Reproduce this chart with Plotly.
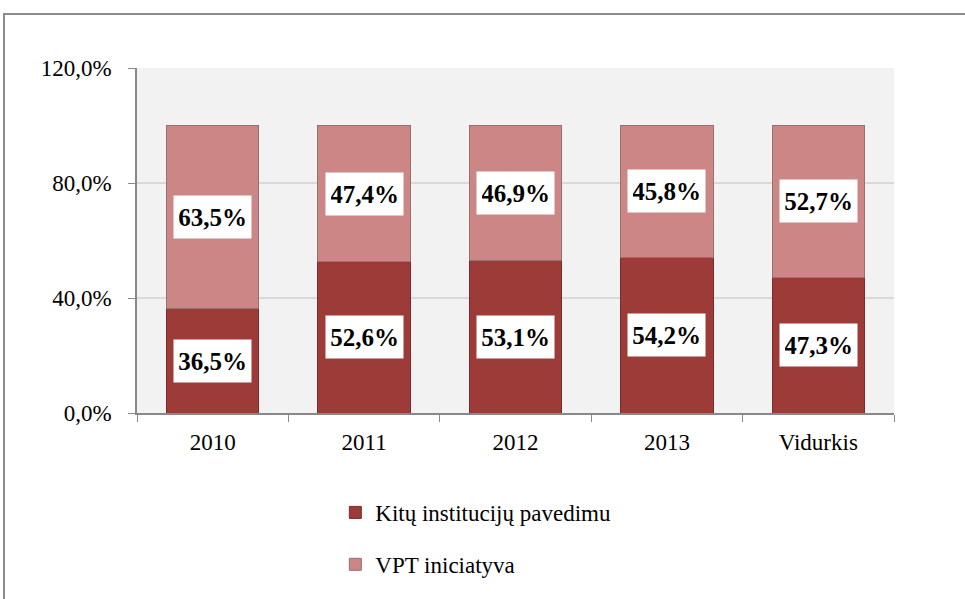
import plotly.graph_objects as go

categories = ["2010", "2011", "2012", "2013", "Vidurkis"]
kitu = [36.5, 52.6, 53.1, 54.2, 47.3]
vpt = [63.5, 47.4, 46.9, 45.8, 52.7]
series_names = ["Kitų institucijų pavedimu", "VPT iniciatyva"]
tick_vals = [0, 40, 80, 120]
tick_text = ["0,0%", "40,0%", "80,0%", "120,0%"]

FONT = "Liberation Serif, Times New Roman, serif"

fig = go.Figure()
fig.add_trace(go.Bar(
    x=categories, y=kitu, name=series_names[0], legendgroup="a",
    marker=dict(color="#9d3b39", line=dict(color="#7a2c2b", width=1)),
    hoverinfo="skip",
))
fig.add_trace(go.Bar(
    x=categories, y=vpt, name=series_names[1], legendgroup="b",
    marker=dict(color="#cc8686", line=dict(color="#9a6f6f", width=1)),
    hoverinfo="skip",
))

def fmt(v):
    return f"{v:.1f}".replace(".", ",") + "%"

for i, (a, b) in enumerate(zip(kitu, vpt)):
    for yc, v in ((a / 2, a), (a + b / 2, b)):
        fig.add_annotation(
            x=i, y=yc, text="<b>" + fmt(v) + "</b>", showarrow=False,
            font=dict(family=FONT, size=25, color="black"),
            bgcolor="white", borderpad=5, width=67, height=32,
        )

l, r, t, b = 137, 71, 68, 186
W, H = 965, 599
pw, ph = W - l - r, H - t - b
x0 = (4 - l) / pw
y1 = (H - b - 14) / ph
fig.add_shape(type="rect", xref="paper", yref="paper",
              x0=x0, x1=1.3, y0=-0.7, y1=y1,
              line=dict(color="#8c8c8c", width=2), fillcolor="rgba(0,0,0,0)",
              layer="below")

fig.update_layout(
    width=W, height=H,
    margin=dict(l=l, r=r, t=t, b=b, pad=0, autoexpand=False),
    barmode="stack", bargap=0.39,
    paper_bgcolor="white", plot_bgcolor="#f2f2f2",
    font=dict(family=FONT, size=23, color="black"),
    showlegend=True,
    legend=dict(
        orientation="v", x=0.262, xanchor="left", y=-0.226, yanchor="top",
        traceorder="grouped", tracegroupgap=19,
        font=dict(family=FONT, size=23, color="black"),
        itemwidth=30,
    ),
    xaxis=dict(
        type="category",
        showline=True, linecolor="#898989", linewidth=1.5,
        ticks="outside", tickson="boundaries", ticklen=7, tickcolor="#898989",
        tickfont=dict(family=FONT, size=23), showgrid=False,
        ticklabelstandoff=8,
    ),
    yaxis=dict(
        range=[0, 120], tickvals=tick_vals, ticktext=tick_text,
        showline=True, linecolor="#898989", linewidth=1.5,
        ticks="outside", ticklen=7, tickcolor="#898989",
        showgrid=True, gridcolor="#d9d9d9", gridwidth=1.5,
        tickfont=dict(family=FONT, size=23), ticklabelstandoff=12,
        zeroline=False,
    ),
)

fig.write_html("out.html", config={"displayModeBar": False},
               post_script="document.body.style.margin='0';")
